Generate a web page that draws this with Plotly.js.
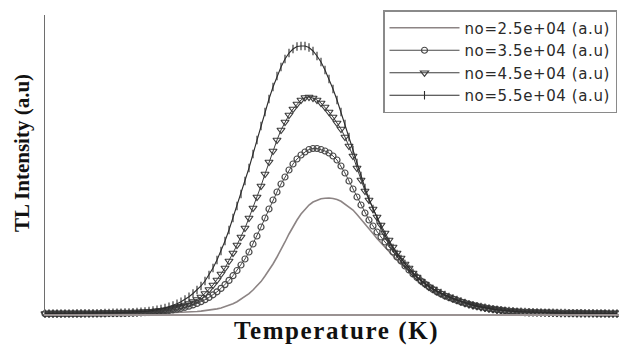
<!DOCTYPE html>
<html>
<head>
<meta charset="utf-8">
<script src="https://cdn.plot.ly/plotly-3.0.1.min.js"></script>
<style>
html,body{margin:0;padding:0;background:#fff;}
#chart{width:619px;height:347px;}
.legendtext{letter-spacing:0.6px;}
g.annotation[data-index="1"] .annotation-text{letter-spacing:1.6px;}
</style>
</head>
<body>
<div id="chart"></div>
<script>
// Temperature (K)
const temperature = [300,302,304,306,308,310,312,314,316,318,320,322,324,326,328,330,332,334,336,338,340,342,344,346,348,350,352,354,356,358,360,362,364,366,368,370,372,374,376,378,380,382,384,386,388,390,392,394,396,398,400,402,404,406,408,410,412,414,416,418,420,422,424,426,428,430,432,434,436,438,440,442,444,446,448,450,452,454,456,458,460,462,464,466,468,470,472,474,476,478,480,482,484,486,488,490,492,494,496,498,500,502,504,506,508,510,512,514,516,518,520,522,524,526,528,530,532,534,536,538,540,542,544,546,548,550,552,554,556,558,560,562,564,566,568,570,572,574,576,578,580,582,584,586];

const seriesNames = ["no=2.5e+04 (a.u)", "no=3.5e+04 (a.u)", "no=4.5e+04 (a.u)", "no=5.5e+04 (a.u)"];

// TL intensity (a.u) for each initial trapped-electron concentration
const tl_n25 = [0.2,0.2,0.2,0.2,0.2,0.2,0.2,0.3,0.3,0.3,0.3,0.3,0.3,0.3,
 0.3,0.35,0.35,0.4,0.4,0.45,0.45,0.5,0.5,0.55,0.6,0.65,0.7,0.75,0.8,0.9,1.0,1.1,1.2,1.3,1.5,1.7,1.9,2.2,2.5,2.9,3.3,3.8,4.4,5.1,6.0,7.2,8.6,10.2,12.3,14.7,17.5,20.3,24,28,32.4,38,43.6,50,57,64,72,80,87.5,94,100,105,109,112,114,115.2,115.7,116,115.5,114.5,112.7,110,107,104,99.5,95,90,85,80.5,75.5,71,66.5,62,58,54,50,46.5,43,39.5,36.5,33.5,30.5,27.5,25,22.5,20.5,18.5,16.5,15,13.5,12,10.8,9.7,8.7,7.8,
 7.0,6.2,5.5,4.9,4.3,3.8,3.4,3.0,2.7,2.4,2.2,2.0,1.8,1.7,1.6,1.5,1.4,1.3,1.2,1.1,1.0,1.0,0.9,0.9,0.8,0.8,0.7,0.7,0.7,0.6,0.6,0.6,0.5,0.5,0.5];

const tl_n35 = [0.3,0.3,0.3,0.3,0.3,0.4,0.4,0.4,0.4,0.4,0.5,0.5,0.5,0.5,
 0.6,0.6,0.7,0.7,0.8,0.9,0.9,1.0,1.1,1.2,1.4,1.5,1.7,2.0,2.3,2.7,3.1,3.6,4.2,4.9,5.7,6.7,7.8,9.1,10.6,12.3,14.3,16.6,19.2,22.2,25.6,29.4,33.6,38.3,43.5,49,55,62,70,78,87,96,105,114,122,130,137,144,150,155,159,162,164.5,165.5,165.5,164.5,163,161,158,154,148,141,133,125,117,109,101,94,88,82,77,72,67,62,57,53,48,44,40,36.5,33,30,27,24.5,22,20,18,16.5,15,13.5,12,10.8,9.7,8.7,7.8,
 7.0,6.2,5.5,4.9,4.3,3.8,3.4,3.0,2.7,2.4,2.2,2.0,1.8,1.7,1.6,1.5,1.4,1.3,1.2,1.1,1.0,1.0,0.9,0.9,0.8,0.8,0.7,0.7,0.7,0.6,0.6,0.6,0.5,0.5,0.5];

const tl_n45 = [0.4,0.4,0.4,0.4,0.4,0.5,0.5,0.5,0.5,0.6,0.6,0.6,0.7,0.7,
 0.7,0.8,0.9,0.9,1.0,1.1,1.2,1.3,1.4,1.6,1.8,2.0,2.3,2.7,3.1,3.6,4.2,4.9,5.7,6.7,7.8,9.0,10.5,12.3,14.5,17,20.5,24.5,29,34,40,46,53,61,69,77,86,96,106,117,128,140,152,163,174,184,192,199,205,210,214,216.5,217,216,214,211,207,202,197,191,185,177,168,158,146,134,123,114,105,97,89,81,74,67,61,56,50,46,41,37,33,30,27,25,22.5,20.5,18.5,17,15.5,14,12.5,11,
 9.8,8.8,7.9,7.0,6.2,5.5,4.9,4.3,3.8,3.4,3.0,2.7,2.4,2.2,2.0,1.8,1.7,1.6,1.5,1.4,1.3,1.2,1.1,1.0,1.0,0.9,0.9,0.8,0.8,0.7,0.7,0.7,0.6,0.6,0.6,0.5,0.5,0.5];

const tl_n55 = [0.5,0.5,0.5,0.5,0.5,0.6,0.6,0.6,0.7,0.7,0.7,0.8,0.8,0.8,
 0.9,1.0,1.1,1.2,1.3,1.4,1.5,1.6,1.8,2.0,2.3,2.6,3.0,3.5,4.2,5.0,6.0,7.2,8.6,10.3,12.3,14.6,17.3,20.5,24,28,33,39,46,54,63,73,84,96,108,120,133,146,160,174,188,202,215,227,238,247,255,261,265,267.5,268,268,266.5,263,258,252,244,235,225,214,202,190,177,164,151,138,126,115,105,95,87,79,72,66,60,55,50,45,41,37,33.5,30.5,27.5,25,23,21,19,17,15.5,14,12.5,11,
 9.8,8.8,7.9,7.0,6.2,5.5,4.9,4.3,3.8,3.4,3.0,2.7,2.4,2.2,2.0,1.8,1.7,1.6,1.5,1.4,1.3,1.2,1.1,1.0,1.0,0.9,0.9,0.8,0.8,0.7,0.7,0.7,0.6,0.6,0.6,0.5,0.5,0.5];

const traces = [
  {x: temperature, y: tl_n25, name: seriesNames[0], mode: 'lines',
   line: {color: '#8c8484', width: 1.6}, cliponaxis: false},
  {x: temperature, y: tl_n35, name: seriesNames[1], mode: 'lines+markers',
   line: {color: '#4a4a4a', width: 1},
   marker: {symbol: 'circle-open', size: 6, color: '#4a4a4a', line: {width: 1.2, color: '#4a4a4a'}}, cliponaxis: false},
  {x: temperature, y: tl_n45, name: seriesNames[2], mode: 'lines+markers',
   line: {color: '#3c3c3c', width: 1},
   marker: {symbol: 'triangle-down-open', size: 7, color: '#3c3c3c', line: {width: 1.2, color: '#3c3c3c'}}, cliponaxis: false},
  {x: temperature, y: tl_n55, name: seriesNames[3], mode: 'lines+markers',
   line: {color: '#2c2c2c', width: 1.1},
   marker: {symbol: 'line-ns-open', size: 6, color: '#2c2c2c', line: {width: 1.1, color: '#2c2c2c'}}, cliponaxis: false}
];

const layout = {
  width: 619, height: 347,
  margin: {l: 45, r: 0, t: 15, b: 33, pad: 0},
  paper_bgcolor: '#fff', plot_bgcolor: '#fff',
  showlegend: true,
  xaxis: {range: [300, 587], showline: true, linecolor: '#9a9292', linewidth: 2,
          showticklabels: false, ticks: '', showgrid: false, zeroline: false, fixedrange: true},
  yaxis: {range: [0, 299], showline: true, linecolor: '#6e6e6e', linewidth: 1.2,
          showticklabels: false, ticks: '', showgrid: false, zeroline: false, fixedrange: true},
  legend: {x: (383 - 45) / 574, y: (314 - 10) / 299, xanchor: 'left', yanchor: 'top',
           bgcolor: '#fff', bordercolor: '#8a8a8a', borderwidth: 1.5,
           font: {family: 'DejaVu Sans', size: 15, color: '#2a2a2a'},
           itemwidth: 70, tracegroupgap: 0},
  annotations: [
    {text: 'TL Intensity (a.u)', xref: 'paper', yref: 'paper', x: (22 - 45) / 574, y: (314 - 153) / 299,
     showarrow: false, textangle: -90, xanchor: 'center', yanchor: 'middle',
     font: {family: 'Liberation Serif', size: 21, color: '#111', weight: 'bold'}},
    {text: 'Temperature (K)', xref: 'paper', yref: 'paper', x: (336 - 45) / 574, y: (314 - 331) / 299,
     showarrow: false, xanchor: 'center', yanchor: 'middle',
     font: {family: 'Liberation Serif', size: 25, color: '#111', weight: 'bold'}}
  ]
};

Plotly.newPlot('chart', traces, layout, {displayModeBar: false, staticPlot: true});
</script>
</body>
</html>
